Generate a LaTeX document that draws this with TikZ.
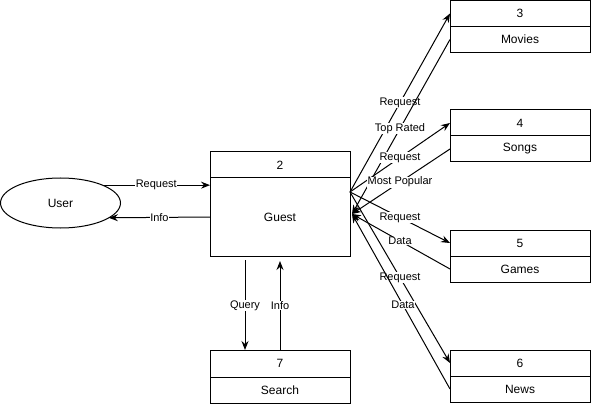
\documentclass[tikz,border=0pt]{standalone}
\usepackage{fontspec}
\setmainfont{Liberation Sans}
\usetikzlibrary{arrows.meta,shapes.geometric}
\begin{document}
\begin{tikzpicture}[x=1pt,y=-1pt,line width=1pt,
  hdr/.style={draw,rectangle,minimum width=140pt,minimum height=26pt,inner sep=0pt,outer sep=0pt,font=\fontsize{12}{14}\selectfont},
  bdy/.style={hdr},
  arr/.style={-{Stealth[length=9pt,width=7pt,inset=3pt]}},
  lbl/.style={fill=white,inner sep=0.5pt,font=\fontsize{11}{13}\selectfont,pos=0.5}]
\useasboundingbox (0,0) rectangle (591,406);

% external entity
\node[draw,ellipse,minimum width=120pt,minimum height=50pt,inner sep=0pt,outer sep=0pt,
      font=\fontsize{12}{14}\selectfont] (user) at (60.5,203) {User};

% guest process
\node[hdr] (h2) at (280,165) {2};
\node[bdy,minimum height=78pt] (b2) at (280,217) {Guest};

% sub processes
\node[hdr] (h3) at (520,13.5) {3};
\node[bdy] (b3) at (520,39.5) {Movies};
\node[hdr] (h4) at (520,123) {4};
\node[bdy] (b4) at (520,149) {Songs};
\node[hdr] (h5) at (520,243) {5};
\node[bdy] (b5) at (520,269) {Games};
\node[hdr] (h6) at (520,363) {6};
\node[bdy] (b6) at (520,389) {News};
\node[hdr,minimum height=27pt] (h7) at (280,363.5) {7};
\node[bdy] (b7) at (280,390) {Search};

% fan points on the right side of Guest
\coordinate (gout) at (350,192);
\coordinate (gin) at (352,214);

% user <-> guest
\draw[arr] (user.23) -- (user.23 -| b2.west) node[lbl] {Request};
\draw[arr] (b2.west) -- (user.-17) node[lbl] {Info};

% guest <-> search
\draw[arr,shorten <=4pt] ([xshift=-35pt]b2.south) -- ([xshift=-35pt]h7.north) node[lbl,pos=0.53] {Query};
\draw[arr,shorten >=5pt] (h7.north) -- (b2.south) node[lbl,pos=0.47] {Info};

% guest <-> movies, songs, games, news
\draw[arr] (gout) -- (h3.west) node[lbl] {Request};
\draw[arr] (b3.west) -- (gin) node[lbl,pos=0.51] {Top Rated};
\draw[arr] (gout) -- (h4.west) node[lbl] {Request};
\draw[arr] (b4.west) -- (gin) node[lbl,pos=0.51] {Most Popular};
\draw[arr] (gout) -- (h5.west) node[lbl] {Request};
\draw[arr] (b5.west) -- (gin) node[lbl,pos=0.51] {Data};
\draw[arr] (gout) -- (h6.west) node[lbl] {Request};
\draw[arr] (b6.west) -- (gin) node[lbl,pos=0.48] {Data};
\end{tikzpicture}
\end{document}
